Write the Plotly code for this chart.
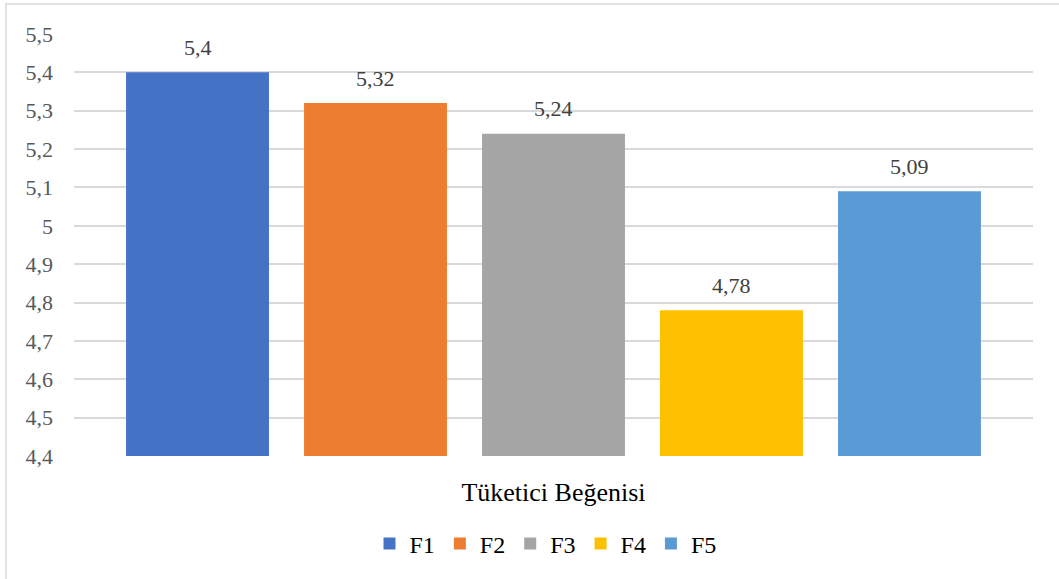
import plotly.graph_objects as go

category = ["Tüketici Beğenisi"]
series_names = ["F1", "F2", "F3", "F4", "F5"]
series_values = [5.4, 5.32, 5.24, 4.78, 5.09]
series_colors = ["#4472C4", "#ED7D31", "#A5A5A5", "#FFC000", "#5B9BD5"]
y_ticks = [4.4, 4.5, 4.6, 4.7, 4.8, 4.9, 5.0, 5.1, 5.2, 5.3, 5.4, 5.5]

SERIF = "Liberation Serif, DejaVu Serif, serif"
W, H = 1059, 579
ML, MR, MT, MB = 74, 26, 34, 123
pw = W - ML - MR
ph = H - MT - MB
bargap, bargroupgap = 0.072, 0.197
slot = pw * (1 - bargap) / len(series_names)


def fmt(v):
    return f"{v:g}".replace(".", ",")


fig = go.Figure()
annotations = []
for i, (name, val, col) in enumerate(zip(series_names, series_values, series_colors)):
    fig.add_trace(go.Bar(
        name=name, x=category, y=[val - 4.4], base=4.4,
        marker=dict(color=col, line=dict(width=0)),
        hoverinfo="name+y",
    ))
    annotations.append(dict(
        x=category[0], y=val, xref="x", yref="y",
        xshift=(i - (len(series_names) - 1) / 2) * slot, yshift=25,
        text=fmt(val), showarrow=False, yanchor="middle",
        font=dict(family=SERIF, size=22, color="#404040"),
    ))

fig.update_layout(
    width=W, height=H,
    margin=dict(l=ML, r=MR, t=MT, b=MB),
    paper_bgcolor="white", plot_bgcolor="white",
    barmode="group", bargap=bargap, bargroupgap=bargroupgap,
    separators=",.",
    font=dict(family=SERIF, color="#595959"),
    showlegend=True,
    legend=dict(orientation="h", x=0.5 - 8 / pw, xanchor="center",
                y=-88 / ph, yanchor="middle",
                font=dict(family=SERIF, size=24, color="#000000"),
                itemwidth=30, traceorder="normal"),
    xaxis=dict(showgrid=False, showline=False, ticks="",
               tickfont=dict(family=SERIF, size=26, color="#000000"),
               ticklabelstandoff=18),
    yaxis=dict(range=[4.4, 5.5], tickvals=y_ticks,
               ticktext=[fmt(v) for v in y_ticks],
               showgrid=True, gridcolor="#D9D9D9", gridwidth=1.5,
               zeroline=False, showline=False, ticks="",
               tickfont=dict(family=SERIF, size=22, color="#595959"),
               ticklabelstandoff=20),
    annotations=annotations,
    shapes=[dict(type="rect", xref="paper", yref="paper",
                 x0=(6 - ML) / pw, x1=(W + 10 - ML) / pw,
                 y0=-(MB + 10) / ph, y1=1 + (MT - 4) / ph,
                 line=dict(color="#D9D9D9", width=1.5), fillcolor="rgba(0,0,0,0)",
                 layer="below")],
)

fig.write_html("out.html")
